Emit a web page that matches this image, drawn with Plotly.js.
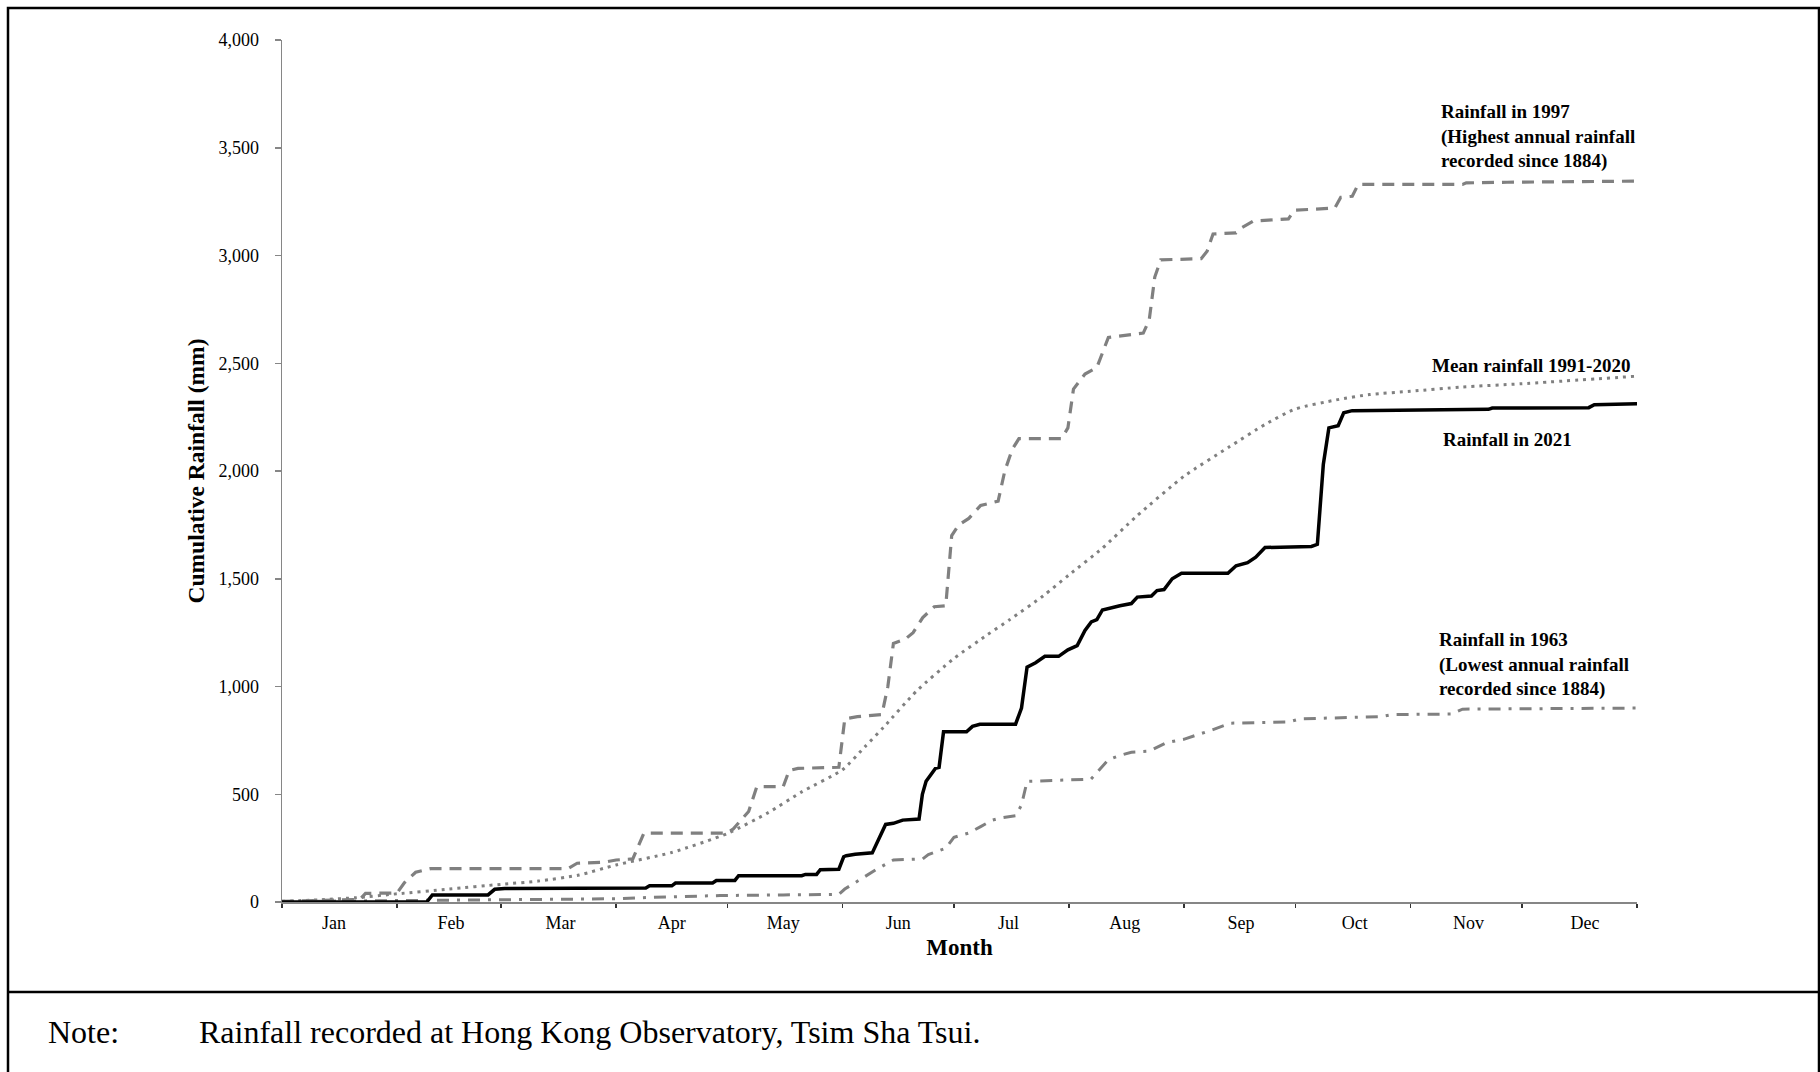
<!DOCTYPE html>
<html>
<head>
<meta charset="utf-8">
<script src="https://cdn.plot.ly/plotly-3.0.1.min.js"></script>
<style>
  html, body { margin: 0; padding: 0; background: #ffffff; }
  #chart { width: 1820px; height: 1072px; }
</style>
</head>
<body>
<div id="chart"></div>
<script>
// ---------------- DATA (day of year, cumulative rainfall in mm) ----------------
const monthStarts = [0, 31, 59, 90, 120, 151, 181, 212, 243, 273, 304, 334, 365];
const monthLabelPos = [14, 45.5, 75, 105, 135, 166, 195.7, 227, 258.3, 289, 319.6, 351];
const monthNames = ['Jan', 'Feb', 'Mar', 'Apr', 'May', 'Jun', 'Jul', 'Aug', 'Sep', 'Oct', 'Nov', 'Dec'];
const yTicks = [0, 500, 1000, 1500, 2000, 2500, 3000, 3500, 4000];

const rain1997 = [[0,3],[15,8],[21,12],[22.5,40],[31,42],[33,90],[36,138],[40,155],[77,155],[79.5,180],[87,185],[90,195],[94.5,200],[97.5,320],[120,320],[121.6,340],[125.7,420],[127.9,535],[135,535],[136.6,610],[139,620],[150,625],[151.6,850],[155,860],[161.6,870],[163.2,1000],[164.7,1200],[167.9,1220],[170,1250],[172.6,1320],[175.7,1370],[178.8,1375],[180.4,1700],[182.3,1750],[185,1780],[188.2,1840],[192.9,1860],[194.7,2000],[196.7,2100],[198.5,2150],[210,2150],[211.7,2200],[213.2,2380],[216.3,2450],[219.5,2480],[222.6,2620],[232,2640],[233.6,2700],[235.1,2900],[236.7,2980],[247.6,2985],[249.2,3020],[250.8,3100],[257,3105],[258.6,3130],[261.7,3160],[271.1,3170],[272.7,3210],[283.6,3220],[285.2,3270],[288.3,3275],[289.9,3330],[318,3330],[319,3337],[330,3340],[365,3345]];

const rainMean = [[0,3],[10,10],[20,20],[31,38],[45,60],[59,82],[69,97],[80,125],[90,172],[105,230],[120,318],[131,415],[140,511],[151,614],[157,720],[162,810],[171,980],[181,1130],[190,1240],[196,1310],[205,1420],[212,1518],[221,1642],[230,1787],[243,1976],[255,2110],[265,2218],[273,2288],[284,2330],[293,2355],[304,2370],[318,2390],[334,2405],[365,2440]];

const rain2021 = [[0,0],[39,0],[40.5,33],[55.5,33],[57.3,59],[60,63],[98,65],[99,75],[105,75],[106,88],[116,88],[117,100],[122,100],[123,122],[140,122],[141,128],[144,128],[145,150],[150,152],[151.3,210],[152,215],[154.4,222],[159,228],[162.6,360],[164.7,365],[167.2,380],[171.6,385],[172.5,500],[173.5,560],[176,620],[177,625],[178.2,790],[184.4,790],[186,815],[188,825],[197.6,825],[199.2,900],[200.7,1090],[203,1110],[205.5,1140],[209.2,1140],[211.7,1170],[214.2,1190],[216.3,1260],[218,1300],[219.5,1310],[221,1355],[223.2,1365],[225.7,1375],[228.8,1385],[230.4,1415],[234.2,1420],[235.7,1445],[237.6,1450],[239.8,1500],[242.3,1525],[254.8,1525],[257,1560],[260.1,1575],[262.3,1600],[264.8,1645],[277.3,1650],[278.9,1660],[280.5,2030],[282,2200],[284.5,2210],[286,2270],[288.3,2280],[325,2286],[326,2292],[352,2294],[353.5,2308],[365,2312]];

const rain1963 = [[0,2],[25,5],[45,7],[60,8],[90,15],[100,22],[118,30],[135,33],[150,35],[151.6,60],[155.4,100],[160,150],[164.7,195],[172.6,200],[174.1,220],[178.8,250],[181,300],[185,320],[188.2,350],[191.3,380],[193.5,390],[197.6,400],[199.2,450],[200.7,560],[217.9,570],[219.5,600],[222.6,660],[225.7,680],[228.8,695],[233.6,700],[238.3,740],[242.9,755],[247.6,780],[250.8,800],[255.5,830],[271.1,835],[274.2,850],[283.6,855],[296.1,860],[299.2,870],[315,872],[318,895],[365,900]];

const labels = {
  r1997: 'Rainfall in 1997<br>(Highest annual rainfall<br>recorded since 1884)',
  mean: 'Mean rainfall 1991-2020',
  r2021: 'Rainfall in 2021',
  r1963: 'Rainfall in 1963<br>(Lowest annual rainfall<br>recorded since 1884)'
};
const noteLabel = 'Note:';
const noteText = 'Rainfall recorded at Hong Kong Observatory, Tsim Sha Tsui.';

// ---------------- LAYOUT HELPERS ----------------
const W = 1820, H = 1072;
const PL = 282, PR = 1637, PT = 40, PB = 902;
const px = v => (v - PL) / (PR - PL);
const py = v => (PB - v) / (PB - PT);
const serif = 'Liberation Serif, Times New Roman, serif';
const GREY = '#808080';
const AXIS = '#868686';

const xs = a => a.map(p => p[0]);
const ys = a => a.map(p => p[1]);

const traces = [
  { x: xs(rain1963), y: ys(rain1963), mode: 'lines', name: '1963',
    line: { color: GREY, width: 3, dash: '12px,8px,3px,8px' }, hoverinfo: 'skip' },
  { x: xs(rainMean), y: ys(rainMean), mode: 'lines', name: 'Mean',
    line: { color: GREY, width: 3, dash: '3px,5px', shape: 'spline', smoothing: 0.6 }, hoverinfo: 'skip' },
  { x: xs(rain1997), y: ys(rain1997), mode: 'lines', name: '1997',
    line: { color: GREY, width: 3.2, dash: '12px,8px' }, hoverinfo: 'skip' },
  { x: xs(rain2021), y: ys(rain2021), mode: 'lines', name: '2021', xaxis: 'x2',
    line: { color: '#000000', width: 3.5 }, hoverinfo: 'skip' }
];

const tickFont = { family: serif, size: 18, color: '#000000' };
const labFont = { family: serif, size: 19, color: '#000000', weight: 'bold' };

const layout = {
  width: W, height: H,
  margin: { l: PL, r: W - PR, t: PT, b: H - PB, pad: 0 },
  paper_bgcolor: '#ffffff', plot_bgcolor: '#ffffff',
  showlegend: false,
  xaxis: {
    range: [0, 365], tickmode: 'array', tickvals: monthStarts, showticklabels: false,
    ticks: 'outside', ticklen: 4, tickwidth: 1.5, tickcolor: '#333333',
    showline: true, linecolor: AXIS, linewidth: 1.5,
    showgrid: false, zeroline: false, fixedrange: true
  },
  xaxis2: {
    overlaying: 'x', anchor: 'y', side: 'bottom',
    range: [0, 365], tickmode: 'array', tickvals: monthLabelPos, ticktext: monthNames,
    ticks: '', showline: false, showgrid: false, zeroline: false,
    tickfont: tickFont, ticklabelstandoff: 8,
    title: { text: 'Month', font: { family: serif, size: 23, color: '#000000', weight: 'bold' }, standoff: 6 }
  },
  yaxis: {
    range: [0, 4000], tickmode: 'array', tickvals: yTicks, tickformat: ',d',
    ticks: 'outside', ticklen: 6, tickwidth: 1.5, tickcolor: AXIS,
    showline: true, linecolor: AXIS, linewidth: 1.5,
    showgrid: false, zeroline: false, tickfont: tickFont, ticklabelstandoff: 12,
    title: { text: 'Cumulative Rainfall (mm)', font: { family: serif, size: 23.5, color: '#000000', weight: 'bold' }, standoff: 7 }
  },
  shapes: [
    { type: 'rect', xref: 'paper', yref: 'paper', x0: px(8), x1: px(1819), y0: py(1090), y1: py(8),
      line: { color: '#000000', width: 2.5 }, fillcolor: 'rgba(0,0,0,0)' },
    { type: 'line', xref: 'paper', yref: 'paper', x0: px(8), x1: px(1819), y0: py(992), y1: py(992),
      line: { color: '#000000', width: 2.5 } }
  ],
  annotations: [
    { x: 311.7, y: 3553, xref: 'x', yref: 'y', text: labels.r1997, showarrow: false,
      xanchor: 'left', yanchor: 'middle', align: 'left', font: labFont },
    { x: 309.2, y: 2491, xref: 'x', yref: 'y', text: labels.mean, showarrow: false,
      xanchor: 'left', yanchor: 'middle', align: 'left', font: labFont },
    { x: 312.3, y: 2147, xref: 'x', yref: 'y', text: labels.r2021, showarrow: false,
      xanchor: 'left', yanchor: 'middle', align: 'left', font: labFont },
    { x: 311.1, y: 1104, xref: 'x', yref: 'y', text: labels.r1963, showarrow: false,
      xanchor: 'left', yanchor: 'middle', align: 'left', font: labFont },
    { x: px(46), y: py(1032), xref: 'paper', yref: 'paper', text: noteLabel, showarrow: false,
      xanchor: 'left', yanchor: 'middle', font: { family: serif, size: 32, color: '#000000' } },
    { x: px(197), y: py(1032), xref: 'paper', yref: 'paper', text: noteText, showarrow: false,
      xanchor: 'left', yanchor: 'middle', font: { family: serif, size: 32, color: '#000000' } }
  ]
};

Plotly.newPlot('chart', traces, layout, { displayModeBar: false, staticPlot: true });
</script>
</body>
</html>
